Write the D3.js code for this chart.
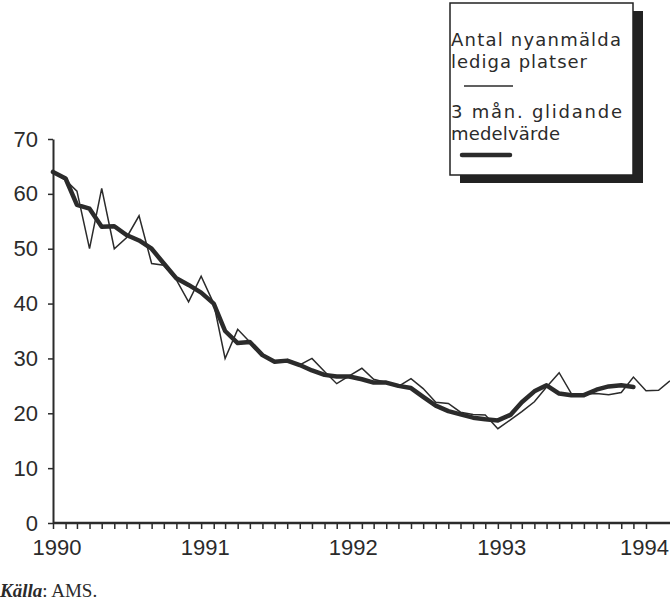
<!DOCTYPE html>
<html lang="sv">
<head>
<meta charset="utf-8">
<title>Lediga platser</title>
<script src="https://cdn.jsdelivr.net/npm/d3@7"></script>
<style>
  body { margin: 0; background: #fff; }
  svg { display: block; }
</style>
</head>
<body>
<script>
// Monthly data, Jan 1990 onwards (thousands)
var startDate = new Date(1990, 0, 1);
var nyanmalda = [64, 62.5, 60.5, 50, 61, 50, 52, 56, 47.3, 47, 44.3, 40.3,
                 45, 40, 30, 35.3, 33, 30.5, 29.4, 29.6, 28.8, 30, 27.6, 25.4,
                 26.8, 28.2, 26.2, 25.6, 24.9, 26.3, 24.5, 22, 21.8, 20.2, 19.8, 19.7,
                 17.2, 18.8, 20.3, 22.1, 24.8, 27.4, 23.6, 23.5, 23.6, 23.4, 23.8, 26.6,
                 24.1, 24.2, 25.9];
var glidande = [64, 62.8, 58, 57.3, 54, 54.1, 52.5, 51.5, 50, 47.3, 44.6, 43.4,
                42, 40, 35, 32.8, 33, 30.6, 29.4, 29.6, 28.8, 27.8, 27, 26.7,
                26.7, 26.2, 25.6, 25.6, 25, 24.6, 23, 21.4, 20.4, 19.8, 19.2, 18.9,
                18.7, 19.7, 22, 24, 25.1, 23.6, 23.3, 23.3, 24.3, 24.9, 25.1, 24.8];
var yTicks = [0, 10, 20, 30, 40, 50, 60, 70];
var xYears = [1990, 1991, 1992, 1993, 1994];
var legendThin = ["Antal nyanmälda", "lediga platser"];
var legendThick = ["3 mån. glidande", "medelvärde"];

var w = 670, h = 601;
var ink = "#2b2b2b";
var axisFont = "'Liberation Sans', Arial, sans-serif";

var svg = d3.select("body").append("svg")
  .attr("width", w)
  .attr("height", h);

var x = d3.scaleTime()
  .domain([new Date(1990, 0, 1), new Date(1994, 0, 1)])
  .range([53, 646]);

var y = d3.scaleLinear()
  .domain([0, 70])
  .range([523, 139]);

function monthDate(i) { return d3.timeMonth.offset(startDate, i); }

// y axis
var yAxis = d3.axisLeft(y)
  .tickValues(yTicks)
  .tickSize(5)
  .tickPadding(10)
  .tickSizeOuter(0);

var gy = svg.append("g")
  .attr("transform", "translate(53,0)")
  .call(yAxis);
gy.select(".domain").attr("stroke", ink).attr("stroke-width", 2);
gy.selectAll(".tick line").attr("stroke", ink).attr("stroke-width", 1.5);
gy.selectAll(".tick text")
  .attr("fill", ink)
  .style("font-family", axisFont)
  .style("font-size", "22px");

// x axis, monthly ticks
var xAxis = d3.axisBottom(x)
  .ticks(d3.timeMonth.every(1))
  .tickSize(6)
  .tickFormat("")
  .tickSizeOuter(0);

var gx = svg.append("g")
  .attr("transform", "translate(0,523)")
  .call(xAxis);
gx.select(".domain").attr("stroke", ink).attr("stroke-width", 2.5)
  .attr("d", "M53,0H670");
gx.selectAll(".tick line").attr("stroke", ink).attr("stroke-width", 1.5);

svg.selectAll(".yearlabel")
  .data(xYears)
  .enter()
  .append("text")
  .attr("class", "yearlabel")
  .attr("x", function(d, i) {
    return i === xYears.length - 1 ? 669 : x(new Date(d, 0, 1)) + 4;
  })
  .attr("y", 555)
  .attr("text-anchor", function(d, i) { return i === xYears.length - 1 ? "end" : "middle"; })
  .attr("fill", ink)
  .style("font-family", axisFont)
  .style("font-size", "22px")
  .text(function(d) { return d; });

// lines
var line = d3.line()
  .x(function(d, i) { return x(monthDate(i)); })
  .y(function(d) { return y(d); });

svg.append("path")
  .datum(nyanmalda)
  .attr("d", line)
  .attr("fill", "none")
  .attr("stroke", ink)
  .attr("stroke-width", 1.5)
  .attr("stroke-linejoin", "miter");

svg.append("path")
  .datum(glidande)
  .attr("d", line)
  .attr("fill", "none")
  .attr("stroke", ink)
  .attr("stroke-width", 4.5)
  .attr("stroke-linejoin", "round")
  .attr("stroke-linecap", "round");

// legend box with shadow
var lg = svg.append("g");
lg.append("rect")
  .attr("x", 460).attr("y", 11)
  .attr("width", 183).attr("height", 172)
  .attr("fill", "#222");
lg.append("rect")
  .attr("x", 450).attr("y", 3)
  .attr("width", 183).attr("height", 172)
  .attr("fill", "#fff")
  .attr("stroke", "#222")
  .attr("stroke-width", 1.5);

var thinLen = [170, 136];
var thickLen = [171, 109];

lg.selectAll(".thin")
  .data(legendThin)
  .enter()
  .append("text")
  .attr("x", 451)
  .attr("y", function(d, i) { return 46 + i * 22; })
  .attr("textLength", function(d, i) { return thinLen[i]; })
  .attr("lengthAdjust", "spacing")
  .attr("fill", ink)
  .style("font-family", "'DejaVu Sans', sans-serif")
  .style("font-size", "18px")
  .text(function(d) { return d; });

lg.append("line")
  .attr("x1", 464).attr("x2", 513)
  .attr("y1", 86).attr("y2", 86)
  .attr("stroke", ink).attr("stroke-width", 1.5);

lg.selectAll(".thick")
  .data(legendThick)
  .enter()
  .append("text")
  .attr("x", 451)
  .attr("y", function(d, i) { return 118 + i * 22; })
  .attr("textLength", function(d, i) { return thickLen[i]; })
  .attr("lengthAdjust", "spacing")
  .attr("fill", ink)
  .style("font-family", "'DejaVu Sans', sans-serif")
  .style("font-size", "18px")
  .text(function(d) { return d; });

lg.append("line")
  .attr("x1", 462).attr("x2", 510)
  .attr("y1", 155).attr("y2", 155)
  .attr("stroke", ink).attr("stroke-width", 4.5)
  .attr("stroke-linecap", "round");

// source
var src = svg.append("text")
  .attr("x", 0)
  .attr("y", 597)
  .attr("fill", ink)
  .style("font-family", "'Liberation Serif', serif")
  .style("font-size", "19px");
src.append("tspan").style("font-style", "italic").style("font-weight", "bold").text("Källa");
src.append("tspan").text(": AMS.");
</script>
</body>
</html>
